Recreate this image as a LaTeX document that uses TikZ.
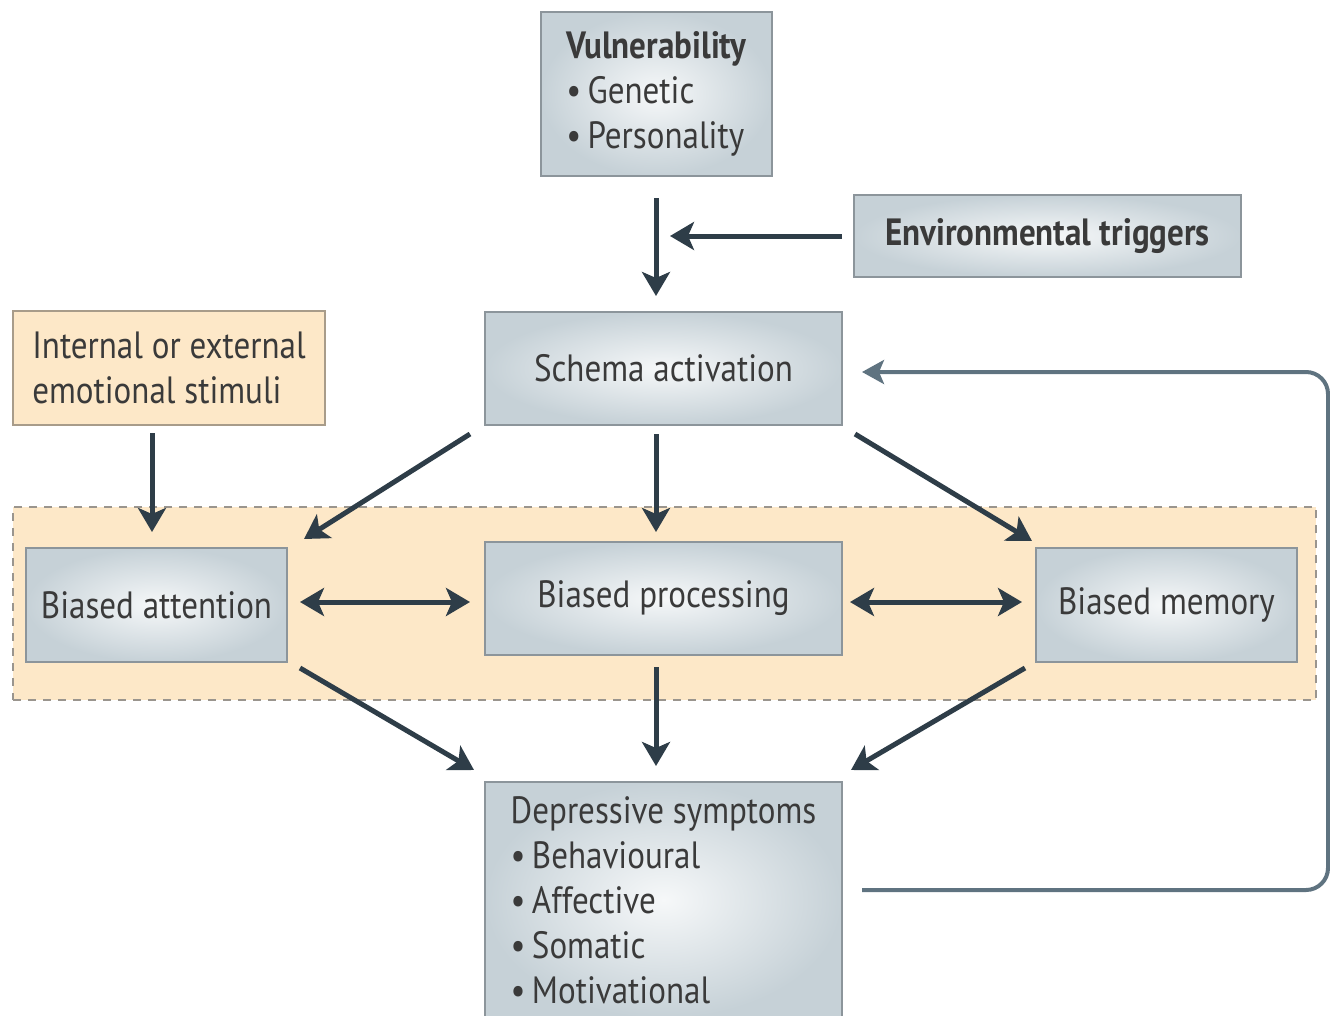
\documentclass[tikz,border=0pt]{standalone}
\usepackage{fontspec}
\setmainfont{PT Sans}[FakeStretch=0.87]
\usetikzlibrary{arrows.meta}
\definecolor{arr}{HTML}{2E3D48}
\definecolor{fb}{HTML}{5F7380}
\definecolor{txt}{HTML}{3A3A3A}
\definecolor{boxedge}{HTML}{8C959B}
\definecolor{boxout}{HTML}{C6D1D7}
\definecolor{boxin}{HTML}{F6F8F9}
\definecolor{orfill}{HTML}{FDE8C8}
\definecolor{oredge}{HTML}{A89C8A}
\definecolor{dashc}{HTML}{9A958E}
\begin{document}
\begin{tikzpicture}[x=1pt,y=-1pt,
  gbox/.style={draw=boxedge, line width=2pt, inner color=boxin, outer color=boxout, text=txt, font=\fontsize{38}{45}\selectfont, inner sep=0pt},
  obox/.style={draw=oredge, line width=2pt, fill=orfill, text=txt, font=\fontsize{38}{45}\selectfont, inner sep=0pt},
  ar/.style={draw=arr, line width=5pt, -{Stealth[length=24pt,width=28pt,inset=6pt]}},
  dar/.style={draw=arr, line width=5pt, {Stealth[length=24pt,width=28pt,inset=6pt]}-{Stealth[length=24pt,width=28pt,inset=6pt]}},
  fbar/.style={draw=fb, line width=4pt, rounded corners=22pt, -{Stealth[length=22pt,width=24pt,inset=5pt]}}
]
\path[use as bounding box] (0,0) rectangle (1330,1015);
\clip (0,0) rectangle (1330,1015);
% band
\node[draw=dashc, dashed, dash pattern=on 8pt off 7pt, line width=2pt, fill=orfill, minimum width=1303pt, minimum height=193pt, inner sep=0pt] (band) at (664.5,603.5) {};
% boxes
\node[gbox, minimum width=231pt, minimum height=164pt, align=left] (vul) at (656.5,94) {\textbf{Vulnerability}\\\textbullet\,Genetic\\\textbullet\,Personality};
\node[gbox, minimum width=387pt, minimum height=82pt, align=center] (env) at (1047.5,236) {\textbf{Environmental triggers}};
\node[obox, minimum width=312pt, minimum height=114pt, align=left] (stim) at (169,368) {Internal or external\\emotional stimuli};
\node[gbox, minimum width=357pt, minimum height=113pt] (schema) at (663.5,368.5) {Schema activation};
\node[gbox, minimum width=261pt, minimum height=114pt] (att) at (156.5,605) {Biased attention};
\node[gbox, minimum width=357pt, minimum height=113pt] (proc) at (663.5,598.5) {Biased processing};
\node[gbox, minimum width=261pt, minimum height=114pt] (mem) at (1166.5,605) {Biased memory};
\node[gbox, minimum width=357pt, minimum height=236pt, align=left] (dep) at (663.5,900) {Depressive symptoms\\\textbullet\,Behavioural\\\textbullet\,Affective\\\textbullet\,Somatic\\\textbullet\,Motivational};
% arrows
\coordinate (vulA) at (656,198);
\coordinate (vulB) at (656,296);
\coordinate (envA) at (842,236);
\coordinate (envB) at (670,236);
\coordinate (stimA) at (152,433);
\coordinate (stimB) at (152,532);
\draw[ar] (vulA) -- (vulB);
\draw[ar] (envA) -- (envB);
\draw[ar] (stimA) -- (stimB);
\draw[ar] (470,434) -- (304,539);
\draw[ar] (656,434) -- (656,532);
\draw[ar] (855,434) -- (1032,541);
\draw[dar] (300,602) -- (470,602);
\draw[dar] (850,602) -- (1022,602);
\draw[ar] (300,668) -- (474,770);
\draw[ar] (656,667) -- (656,766);
\draw[ar] (1025,668) -- (851,770);
% feedback
\draw[fbar] (862,890) -- (1328,890) -- (1328,372) -- (862,372);
\end{tikzpicture}
\end{document}
